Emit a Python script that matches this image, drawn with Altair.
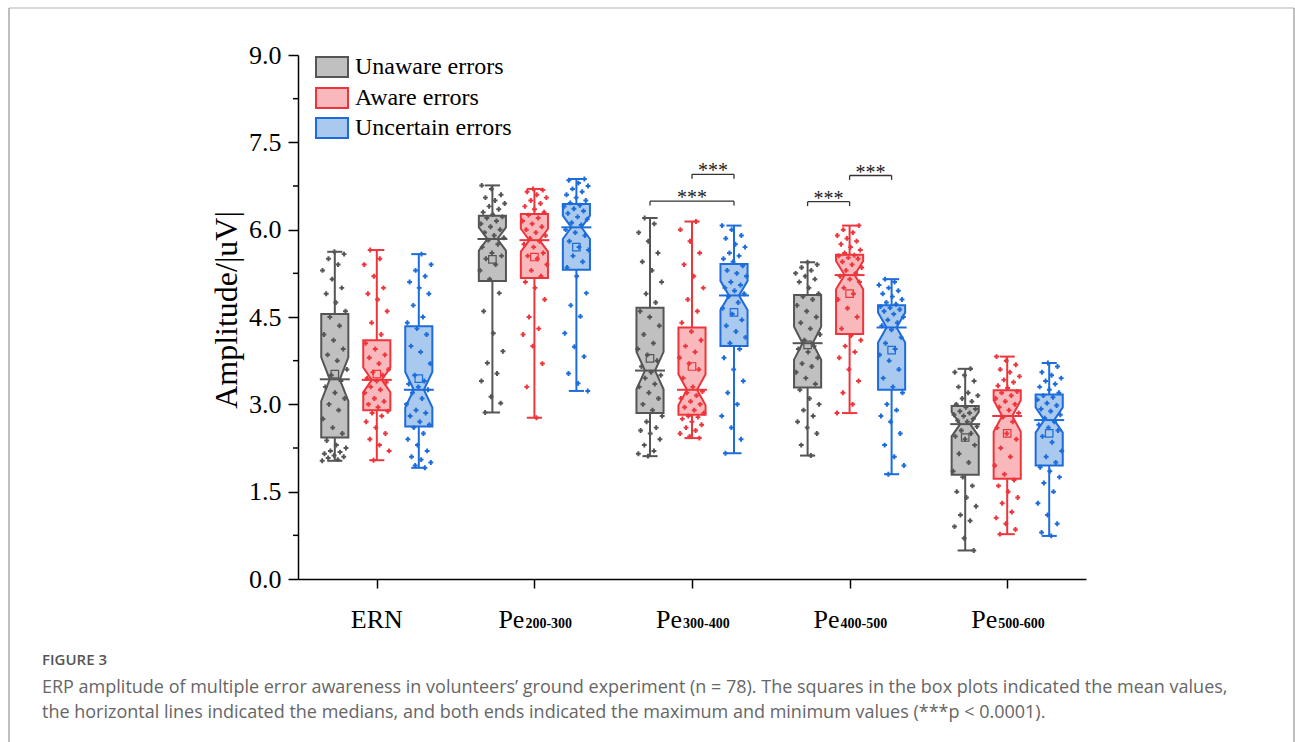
import math
import altair as alt
import pandas as pd

# ---------------------------------------------------------------- data
CATEGORIES = ["ERN", "Pe200-300", "Pe300-400", "Pe400-500", "Pe500-600"]
CAT_MAIN = ["ERN", "Pe", "Pe", "Pe", "Pe"]
CAT_SUB = ["", "200-300", "300-400", "400-500", "500-600"]
GROUPS = ["Unaware errors", "Aware errors", "Uncertain errors"]
N_SUBJECTS = 78

# box statistics: one row per component, columns = Unaware, Aware, Uncertain
MINS = [[2.03, 2.04, 1.91], [2.86, 2.77, 3.23], [2.11, 2.42, 2.16], [2.12, 2.85, 1.80], [0.49, 0.77, 0.74]]
Q1 = [[2.43, 2.90, 2.62], [5.12, 5.17, 5.31], [2.85, 2.82, 4.00], [3.29, 4.21, 3.25], [1.79, 1.72, 1.95]]
MEDIANS = [[3.43, 3.42, 3.25], [5.84, 5.82, 6.04], [3.58, 3.25, 4.87], [4.05, 5.22, 4.32], [2.66, 2.80, 2.73]]
Q3 = [[4.55, 4.10, 4.34], [6.24, 6.27, 6.44], [4.66, 4.32, 5.41], [4.88, 5.57, 4.70], [2.97, 3.24, 3.17]]
MAXS = [[5.62, 5.65, 5.58], [6.76, 6.70, 6.87], [6.20, 6.14, 6.07], [5.44, 6.07, 5.15], [3.61, 3.82, 3.71]]
MEANS = [[3.52, 3.52, 3.44], [5.49, 5.53, 5.70], [3.79, 3.65, 4.58], [4.02, 4.90, 3.93], [2.43, 2.50, 2.50]]

# individual amplitudes (uV)
ERN_UNAWARE = [2.03, 2.05, 2.08, 2.1, 2.12, 2.15, 2.18, 2.2, 2.25, 2.3, 2.38, 2.5, 2.6, 2.75, 2.9, 3.0, 3.1, 3.2, 3.3, 3.4,
               3.5, 3.6, 3.75, 3.85, 3.95, 4.1, 4.2, 4.35, 4.5, 4.6, 4.75, 4.9, 5.0, 5.15, 5.3, 5.4, 5.5, 5.58, 5.62]
ERN_AWARE = [2.04, 2.2, 2.3, 2.4, 2.5, 2.6, 2.7, 2.8, 2.85, 2.88, 2.95, 3.0, 3.05, 3.1, 3.2, 3.25, 3.3, 3.38, 3.4,
             3.45, 3.5, 3.55, 3.6, 3.7, 3.8, 3.85, 3.95, 4.05, 4.2, 4.4, 4.6, 4.8, 4.9, 5.0, 5.2, 5.4, 5.5, 5.65]
ERN_UNCERTAIN = [1.91, 1.95, 2.0, 2.05, 2.1, 2.2, 2.3, 2.4, 2.5, 2.6, 2.65, 2.7, 2.8, 2.85, 2.9, 3.0, 3.1, 3.2, 3.25,
                 3.3, 3.35, 3.4, 3.5, 3.7, 3.9, 4.0, 4.2, 4.3, 4.4, 4.5, 4.7, 4.9, 5.0, 5.1, 5.2, 5.3, 5.4, 5.58]
PE2_UNAWARE = [2.86, 3.02, 3.13, 3.4, 3.53, 3.71, 3.91, 4.22, 4.6, 4.91, 5.15, 5.3, 5.4, 5.5, 5.55, 5.6, 5.7, 5.75, 5.82,
               5.86, 5.9, 5.95, 6.0, 6.05, 6.1, 6.15, 6.2, 6.22, 6.26, 6.3, 6.35, 6.4, 6.45, 6.5, 6.55, 6.6, 6.7, 6.76]
PE2_AWARE = [2.77, 3.3, 3.7, 4.0, 4.2, 4.3, 4.5, 4.8, 5.0, 5.1, 5.2, 5.3, 5.4, 5.5, 5.55, 5.6, 5.7, 5.75, 5.8,
             5.85, 5.9, 5.95, 6.0, 6.05, 6.1, 6.15, 6.2, 6.25, 6.3, 6.35, 6.4, 6.45, 6.5, 6.55, 6.6, 6.65, 6.68, 6.70]
PE2_UNCERTAIN = [3.23, 3.36, 3.53, 3.82, 3.99, 4.22, 4.51, 4.7, 4.91, 5.2, 5.35, 5.45, 5.55, 5.65, 5.7, 5.8, 5.9, 5.95, 6.0,
                 6.08, 6.12, 6.18, 6.22, 6.28, 6.32, 6.36, 6.4, 6.42, 6.46, 6.5, 6.55, 6.6, 6.65, 6.7, 6.75, 6.8, 6.85, 6.87]
PE3_UNAWARE = [2.11, 2.15, 2.2, 2.3, 2.4, 2.5, 2.55, 2.6, 2.7, 2.8, 2.9, 3.0, 3.1, 3.2, 3.3, 3.35, 3.45, 3.5, 3.55,
               3.65, 3.75, 3.85, 3.95, 4.05, 4.2, 4.35, 4.5, 4.6, 4.75, 4.9, 5.1, 5.3, 5.45, 5.6, 5.8, 5.95, 6.1, 6.2]
PE3_AWARE = [2.42, 2.45, 2.5, 2.55, 2.6, 2.65, 2.7, 2.75, 2.78, 2.8, 2.85, 2.9, 2.95, 3.0, 3.05, 3.1, 3.15, 3.2, 3.22,
             3.3, 3.45, 3.6, 3.7, 3.8, 3.9, 4.0, 4.1, 4.25, 4.4, 4.6, 4.8, 5.0, 5.2, 5.4, 5.6, 5.8, 6.0, 6.14]
PE3_UNCERTAIN = [2.16, 2.4, 2.6, 2.8, 3.0, 3.2, 3.4, 3.6, 3.8, 3.95, 4.05, 4.15, 4.25, 4.35, 4.45, 4.55, 4.65, 4.75, 4.85,
                 4.9, 4.95, 5.0, 5.05, 5.1, 5.2, 5.25, 5.3, 5.38, 5.45, 5.5, 5.55, 5.6, 5.7, 5.75, 5.85, 5.9, 6.0, 6.07]
PE4_UNAWARE = [2.12, 2.3, 2.5, 2.6, 2.7, 2.8, 2.9, 3.0, 3.1, 3.25, 3.35, 3.45, 3.55, 3.65, 3.7, 3.8, 3.9, 3.95, 4.0,
               4.1, 4.2, 4.3, 4.4, 4.5, 4.6, 4.7, 4.8, 4.85, 4.9, 5.0, 5.1, 5.15, 5.2, 5.25, 5.3, 5.35, 5.4, 5.44]
PE4_AWARE = [2.85, 3.0, 3.2, 3.4, 3.6, 3.8, 3.9, 4.0, 4.1, 4.18, 4.3, 4.5, 4.65, 4.8, 4.9, 5.0, 5.1, 5.15, 5.2,
             5.25, 5.3, 5.35, 5.4, 5.45, 5.5, 5.52, 5.55, 5.56, 5.6, 5.65, 5.7, 5.75, 5.8, 5.85, 5.9, 5.95, 6.0, 6.07]
PE4_UNCERTAIN = [1.8, 1.95, 2.1, 2.3, 2.5, 2.7, 2.8, 2.9, 3.0, 3.2, 3.3, 3.45, 3.6, 3.75, 3.85, 3.95, 4.05, 4.15, 4.28,
                 4.35, 4.4, 4.45, 4.5, 4.55, 4.6, 4.63, 4.66, 4.68, 4.72, 4.75, 4.8, 4.85, 4.9, 4.95, 5.0, 5.05, 5.1, 5.15]
PE5_UNAWARE = [0.49, 0.7, 0.9, 1.0, 1.1, 1.25, 1.4, 1.5, 1.6, 1.75, 1.85, 2.0, 2.15, 2.3, 2.4, 2.45, 2.5, 2.55, 2.62,
               2.7, 2.72, 2.75, 2.8, 2.82, 2.85, 2.88, 2.92, 2.95, 3.0, 3.05, 3.1, 3.15, 3.2, 3.3, 3.4, 3.5, 3.55, 3.61]
PE5_AWARE = [0.77, 0.85, 0.95, 1.05, 1.15, 1.3, 1.4, 1.5, 1.6, 1.7, 1.8, 1.95, 2.1, 2.25, 2.4, 2.5, 2.6, 2.7, 2.78,
             2.85, 2.9, 2.95, 3.0, 3.05, 3.1, 3.15, 3.2, 3.22, 3.28, 3.32, 3.38, 3.42, 3.48, 3.55, 3.6, 3.68, 3.75, 3.82]
PE5_UNCERTAIN = [0.74, 0.8, 0.95, 1.1, 1.3, 1.5, 1.65, 1.75, 1.85, 1.92, 2.0, 2.1, 2.2, 2.35, 2.45, 2.55, 2.6, 2.65, 2.7,
                 2.76, 2.82, 2.88, 2.92, 2.98, 3.02, 3.08, 3.12, 3.15, 3.2, 3.25, 3.3, 3.35, 3.4, 3.45, 3.5, 3.55, 3.65, 3.71]

POINTS = [
    [ERN_UNAWARE, ERN_AWARE, ERN_UNCERTAIN],
    [PE2_UNAWARE, PE2_AWARE, PE2_UNCERTAIN],
    [PE3_UNAWARE, PE3_AWARE, PE3_UNCERTAIN],
    [PE4_UNAWARE, PE4_AWARE, PE4_UNCERTAIN],
    [PE5_UNAWARE, PE5_AWARE, PE5_UNCERTAIN],
]

# significance brackets (component index, group from, group to, height)
SIG_CAT = [2, 2, 3, 3]
SIG_FROM = [0, 1, 0, 1]
SIG_TO = [2, 2, 1, 2]
SIG_Y = [6.49, 6.95, 6.48, 6.93]
SIG_TEXT = ["***", "***", "***", "***"]

Y_MAJOR = [0.0, 1.5, 3.0, 4.5, 6.0, 7.5, 9.0]
Y_MINOR = [0.75, 2.25, 3.75, 5.25, 6.75, 8.25]

# ---------------------------------------------------------------- style
FILLS = ["#c0c0c0", "#f9b9bc", "#a9c9ef"]
STROKES = ["#555555", "#ee353c", "#1d6cdb"]
SERIF = "Liberation Serif"
SANS = "Open Sans"

W, H = 788, 524
PAD_L, PAD_T = 298, 55
OFFSET = 0.2665      # group spacing within a component (x units)
HALF_BOX = 0.086
HALF_NOTCH = 0.032
HALF_CAP = 0.048
HALF_MED = 0.095
JITTER = 0.08

# ---------------------------------------------------------------- tables
stat_rows, area_rows, cap_rows, pt_rows = [], [], [], []
for c in range(len(CATEGORIES)):
    for g in range(3):
        xc = c + (g - 1) * OFFSET
        q1, md, q3 = Q1[c][g], MEDIANS[c][g], Q3[c][g]
        notch = 1.57 * (q3 - q1) / math.sqrt(N_SUBJECTS)
        box = f"{c}-{g}"
        stat_rows.append(dict(box=box, group=GROUPS[g], xc=xc, lo=MINS[c][g], hi=MAXS[c][g],
                              med=md, mean=MEANS[c][g],
                              mx1=xc - HALF_MED, mx2=xc + HALF_MED))
        for yv, hw in [(q1, HALF_BOX), (md - notch, HALF_BOX), (md, HALF_NOTCH),
                       (md + notch, HALF_BOX), (q3, HALF_BOX)]:
            area_rows.append(dict(box=box, group=GROUPS[g], yv=yv, xl=xc - hw, xr=xc + hw))
        for yv in (MINS[c][g], MAXS[c][g]):
            cap_rows.append(dict(group=GROUPS[g], yv=yv, x1=xc - HALF_CAP, x2=xc + HALF_CAP))
        for i, v in enumerate(POINTS[c][g]):
            frac = (i * 0.6180339887 + 0.37 * g + 0.21 * c) % 1.0
            pt_rows.append(dict(group=GROUPS[g], v=v, x=xc + (frac - 0.5) * 2 * JITTER))

stats = pd.DataFrame(stat_rows)
areas = pd.DataFrame(area_rows)
caps = pd.DataFrame(cap_rows)
pts = pd.DataFrame(pt_rows)

sig_rows, sig_ticks = [], []
for c, a, b, yv, t in zip(SIG_CAT, SIG_FROM, SIG_TO, SIG_Y, SIG_TEXT):
    xa, xb = c + (a - 1) * OFFSET, c + (b - 1) * OFFSET
    sig_rows.append(dict(x1=xa, x2=xb, xm=(xa + xb) / 2, yv=yv, t=t))
    for xx in (xa, xb):
        sig_ticks.append(dict(x=xx, y1=yv, y2=yv - 0.075))
sig = pd.DataFrame(sig_rows)
sig_t = pd.DataFrame(sig_ticks)

labels = pd.DataFrame(dict(x=list(range(len(CATEGORIES))), main=CAT_MAIN, sub=CAT_SUB))

# ---------------------------------------------------------------- scales
xs = alt.Scale(domain=[-0.5, 4.5], nice=False, zero=False)
ys = alt.Scale(domain=[0, 9], nice=False, zero=False)
col = alt.Color("group:N", scale=alt.Scale(domain=GROUPS, range=STROKES), legend=None)
fill = alt.Fill("group:N", scale=alt.Scale(domain=GROUPS, range=FILLS), legend=None)
stroke = alt.Stroke("group:N", scale=alt.Scale(domain=GROUPS, range=STROKES), legend=None)

x_axis = alt.Axis(values=[0, 1, 2, 3, 4], labels=False, title=None, grid=False, tickSize=9,
                  tickWidth=1.5, domainWidth=1.5, domainColor="black", tickColor="black")
y_axis = alt.Axis(values=Y_MAJOR, format=".1f", title=None, grid=False, tickSize=10,
                  tickWidth=1.5, domainWidth=1.5, domainColor="black", tickColor="black",
                  labelFont=SERIF, labelFontSize=26, labelColor="black", labelPadding=7)

whiskers = alt.Chart(stats).mark_rule(strokeWidth=2).encode(
    x=alt.X("xc:Q", scale=xs, axis=x_axis), y=alt.Y("lo:Q", scale=ys, axis=y_axis), y2="hi:Q", color=col)

cap_marks = alt.Chart(caps).mark_rule(strokeWidth=2).encode(
    x=alt.X("x1:Q", scale=xs), x2="x2:Q", y=alt.Y("yv:Q", scale=ys), color=col)

# notched box: horizontal area, one x-interval per height, grouped per box
boxes = alt.Chart(areas).mark_area(orient="horizontal", strokeWidth=2, opacity=1, fillOpacity=1).encode(
    y=alt.Y("yv:Q", scale=ys), x=alt.X("xl:Q", scale=xs), x2="xr:Q",
    fill=fill, stroke=stroke, detail="box:N")

medians = alt.Chart(stats).mark_rule(strokeWidth=2).encode(
    x=alt.X("mx1:Q", scale=xs), x2="mx2:Q", y=alt.Y("med:Q", scale=ys), color=col)

dots = alt.Chart(pts).mark_point(shape="cross", filled=True, size=24, opacity=1).encode(
    x=alt.X("x:Q", scale=xs), y=alt.Y("v:Q", scale=ys), color=col)

means = alt.Chart(stats).mark_point(shape="square", filled=False, size=56, strokeWidth=1.2, opacity=1).encode(
    x=alt.X("xc:Q", scale=xs), y=alt.Y("mean:Q", scale=ys), color=col)

minor_ticks = alt.Chart(pd.DataFrame(dict(v=Y_MINOR))).mark_rule(color="black", strokeWidth=1.5).encode(
    y=alt.Y("v:Q", scale=ys), x=alt.value(-5), x2=alt.value(0))

brackets = alt.Chart(sig).mark_rule(color="#333333", strokeWidth=1.3).encode(
    x=alt.X("x1:Q", scale=xs), x2="x2:Q", y=alt.Y("yv:Q", scale=ys))
bracket_ends = alt.Chart(sig_t).mark_rule(color="#333333", strokeWidth=1.3).encode(
    x=alt.X("x:Q", scale=xs), y=alt.Y("y1:Q", scale=ys), y2="y2:Q")
stars = alt.Chart(sig).mark_text(font=SERIF, fontSize=20, baseline="alphabetic", dy=3, color="#222222").encode(
    x=alt.X("xm:Q", scale=xs), y=alt.Y("yv:Q", scale=ys), text="t:N")

# component labels: main name plus a small bold subscript
cat_main_ern = alt.Chart(labels[labels["sub"] == ""]).mark_text(
    font=SERIF, fontSize=26, baseline="alphabetic", align="center", color="black").encode(
    x=alt.X("x:Q", scale=xs), y=alt.value(628 - PAD_T), text="main:N")
cat_main_pe = alt.Chart(labels[labels["sub"] != ""]).mark_text(
    font=SERIF, fontSize=26, baseline="alphabetic", align="right", dx=-10, color="black").encode(
    x=alt.X("x:Q", scale=xs), y=alt.value(628 - PAD_T), text="main:N")
cat_sub = alt.Chart(labels[labels["sub"] != ""]).mark_text(
    font=SERIF, fontSize=14, fontWeight="bold", baseline="alphabetic", align="left", dx=-9, color="black").encode(
    x=alt.X("x:Q", scale=xs), y=alt.value(628 - PAD_T), text="sub:N")

y_title = alt.Chart(pd.DataFrame(dict(t=["Amplitude/|uV|"]))).mark_text(
    font=SERIF, fontSize=32, angle=270, align="center", baseline="middle", color="black").encode(
    x=alt.value(227 - PAD_L), y=alt.value(310 - PAD_T), text="t:N")

# legend drawn by hand: outlined swatch + label
legend_layers = []
for i, g in enumerate(GROUPS):
    cy = [67, 98, 128][i] - PAD_T
    one = pd.DataFrame(dict(t=[g]))
    legend_layers.append(alt.Chart(one).mark_rect(fill=FILLS[i], stroke=STROKES[i], strokeWidth=2).encode(
        x=alt.value(316 - PAD_L), x2=alt.value(348 - PAD_L), y=alt.value(cy - 10), y2=alt.value(cy + 10)))
    legend_layers.append(alt.Chart(one).mark_text(
        font=SERIF, fontSize=24, align="left", baseline="middle", color="black").encode(
        x=alt.value(355 - PAD_L), y=alt.value(cy), text="t:N"))

# figure frame and caption
frame_df = pd.DataFrame(dict(k=[0]))
frame = [
    alt.Chart(frame_df).mark_rule(color="#cccccc", strokeWidth=1.5).encode(
        x=alt.value(9 - PAD_L), x2=alt.value(1294 - PAD_L), y=alt.value(8 - PAD_T)),
    alt.Chart(frame_df).mark_rule(color="#aaaaaa", strokeWidth=1.5).encode(
        x=alt.value(9 - PAD_L), y=alt.value(8 - PAD_T), y2=alt.value(742 - PAD_T)),
    alt.Chart(frame_df).mark_rule(color="#aaaaaa", strokeWidth=1.5).encode(
        x=alt.value(1294 - PAD_L), y=alt.value(8 - PAD_T), y2=alt.value(742 - PAD_T)),
]
CAPTION_HEAD = "FIGURE 3"
CAPTION_1 = ("ERP amplitude of multiple error awareness in volunteers’ ground experiment (n = 78). "
             "The squares in the box plots indicated the mean values,")
CAPTION_2 = ("the horizontal lines indicated the medians, and both ends indicated the maximum and "
             "minimum values (***p < 0.0001).")
caption = [
    alt.Chart(pd.DataFrame(dict(t=[CAPTION_HEAD]))).mark_text(
        font=SANS, fontSize=15, fontWeight=600, align="left", baseline="middle", color="#555555").encode(
        x=alt.value(42 - PAD_L), y=alt.value(660 - PAD_T), text="t:N"),
    alt.Chart(pd.DataFrame(dict(t=[CAPTION_1]))).mark_text(
        font=SANS, fontSize=18, align="left", baseline="middle", color="#666666").encode(
        x=alt.value(42 - PAD_L), y=alt.value(688 - PAD_T), text="t:N"),
    alt.Chart(pd.DataFrame(dict(t=[CAPTION_2]))).mark_text(
        font=SANS, fontSize=18, align="left", baseline="middle", color="#666666").encode(
        x=alt.value(42 - PAD_L), y=alt.value(713 - PAD_T), text="t:N"),
]

chart = alt.layer(
    *frame, *caption,
    whiskers, cap_marks, boxes, medians, dots, means, minor_ticks,
    brackets, bracket_ends, stars, cat_main_ern, cat_main_pe, cat_sub, y_title,
    *legend_layers,
).properties(
    width=W, height=H,
    padding={"left": PAD_L, "top": PAD_T, "right": 1295 - PAD_L - W, "bottom": 742 - PAD_T - H},
    autosize=alt.AutoSizeParams(type="none"),
).configure(background="white", view=alt.ViewConfig(stroke=None))

chart.save("out.html", embed_options={"renderer": "svg", "actions": False})
